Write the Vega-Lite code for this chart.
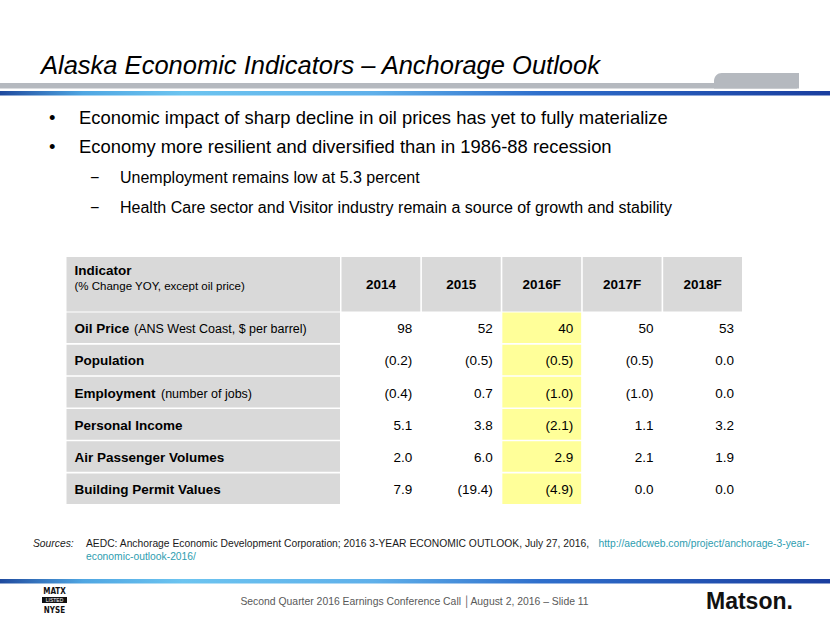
{
  "$schema": "https://vega.github.io/schema/vega-lite/v6.json",
  "width": 830,
  "height": 623,
  "autosize": {"type": "none"},
  "padding": 0,
  "background": "#ffffff",
  "config": {
    "view": {"stroke": null},
    "font": "Liberation Sans",
    "text": {"font": "Liberation Sans", "fill": "#000000"}
  },
  "datasets": {
    "bullets": [
      {"line": 1, "level": 1, "marker": "•", "text": "Economic impact of sharp decline in oil prices has yet to fully materialize"},
      {"line": 2, "level": 1, "marker": "•", "text": "Economy more resilient and diversified than in 1986-88 recession"},
      {"line": 3, "level": 2, "marker": "−", "text": "Unemployment remains low at 5.3 percent"},
      {"line": 4, "level": 2, "marker": "−", "text": "Health Care sector and Visitor industry remain a source of growth and stability"}
    ],
    "indicators": [
      {"indicator": "Oil Price", "note": "(ANS West Coast, $ per barrel)"},
      {"indicator": "Population", "note": ""},
      {"indicator": "Employment", "note": "(number of jobs)"},
      {"indicator": "Personal Income", "note": ""},
      {"indicator": "Air Passenger Volumes", "note": ""},
      {"indicator": "Building Permit Values", "note": ""}
    ],
    "years": [
      {"year": "2014"}, {"year": "2015"}, {"year": "2016F"}, {"year": "2017F"}, {"year": "2018F"}
    ],
    "table": [
      {"indicator": "Oil Price", "year": "2014", "value": 98},
      {"indicator": "Oil Price", "year": "2015", "value": 52},
      {"indicator": "Oil Price", "year": "2016F", "value": 40},
      {"indicator": "Oil Price", "year": "2017F", "value": 50},
      {"indicator": "Oil Price", "year": "2018F", "value": 53},
      {"indicator": "Population", "year": "2014", "value": -0.2},
      {"indicator": "Population", "year": "2015", "value": -0.5},
      {"indicator": "Population", "year": "2016F", "value": -0.5},
      {"indicator": "Population", "year": "2017F", "value": -0.5},
      {"indicator": "Population", "year": "2018F", "value": 0.0},
      {"indicator": "Employment", "year": "2014", "value": -0.4},
      {"indicator": "Employment", "year": "2015", "value": 0.7},
      {"indicator": "Employment", "year": "2016F", "value": -1.0},
      {"indicator": "Employment", "year": "2017F", "value": -1.0},
      {"indicator": "Employment", "year": "2018F", "value": 0.0},
      {"indicator": "Personal Income", "year": "2014", "value": 5.1},
      {"indicator": "Personal Income", "year": "2015", "value": 3.8},
      {"indicator": "Personal Income", "year": "2016F", "value": -2.1},
      {"indicator": "Personal Income", "year": "2017F", "value": 1.1},
      {"indicator": "Personal Income", "year": "2018F", "value": 3.2},
      {"indicator": "Air Passenger Volumes", "year": "2014", "value": 2.0},
      {"indicator": "Air Passenger Volumes", "year": "2015", "value": 6.0},
      {"indicator": "Air Passenger Volumes", "year": "2016F", "value": 2.9},
      {"indicator": "Air Passenger Volumes", "year": "2017F", "value": 2.1},
      {"indicator": "Air Passenger Volumes", "year": "2018F", "value": 1.9},
      {"indicator": "Building Permit Values", "year": "2014", "value": 7.9},
      {"indicator": "Building Permit Values", "year": "2015", "value": -19.4},
      {"indicator": "Building Permit Values", "year": "2016F", "value": -4.9},
      {"indicator": "Building Permit Values", "year": "2017F", "value": 0.0},
      {"indicator": "Building Permit Values", "year": "2018F", "value": 0.0}
    ],
    "slide": [
      {"part": "title", "text": "Alaska Economic Indicators – Anchorage Outlook"}
    ],
    "sources": [
      {"part": "label", "text": "Sources:"}
    ],
    "sourcebody": [
      {"part": "body", "text": "AEDC: Anchorage Economic Development Corporation; 2016 3-YEAR ECONOMIC OUTLOOK, July 27, 2016,"}
    ],
    "links": [
      {"line": 1, "text": "http://aedcweb.com/project/anchorage-3-year-"},
      {"line": 2, "text": "economic-outlook-2016/"}
    ],
    "footer": [
      {"part": "footer", "text": "Second Quarter 2016 Earnings Conference Call │August  2, 2016 – Slide 11"}
    ],
    "logo": [
      {"line": 1, "text": "MATX"},
      {"line": 2, "text": "NYSE"}
    ],
    "brand": [
      {"part": "brand", "text": "Matson."}
    ]
  },
  "layer": [
    {
      "data": {"values": [{"part": "bar"}]},
      "mark": {"type": "rect", "fill": "#b5b9bf"},
      "encoding": {
        "x": {"field": "part", "type": "nominal", "axis": null, "scale": {"type": "band", "domain": ["bar"], "range": [0, 797], "paddingInner": 0, "paddingOuter": 0}},
        "y": {"field": "part", "type": "nominal", "axis": null, "scale": {"type": "band", "domain": ["bar"], "range": [83, 88.5], "paddingInner": 0, "paddingOuter": 0}}
      }
    },
    {
      "data": {"values": [{"part": "tab"}]},
      "mark": {"type": "rect", "fill": "#b5b9bf", "cornerRadiusTopLeft": 10},
      "encoding": {
        "x": {"field": "part", "type": "nominal", "axis": null, "scale": {"type": "band", "domain": ["tab"], "range": [714, 799], "paddingInner": 0, "paddingOuter": 0}},
        "y": {"field": "part", "type": "nominal", "axis": null, "scale": {"type": "band", "domain": ["tab"], "range": [73, 88.5], "paddingInner": 0, "paddingOuter": 0}}
      }
    },
    {
      "data": {"values": [{"part": "topline"}]},
      "mark": {"type": "rect", "fill": {"gradient": "linear", "x1": 0, "y1": 0, "x2": 1, "y2": 0, "stops": [
        {"offset": 0, "color": "#1f4a9e"},
        {"offset": 0.1, "color": "#4fa6e2"},
        {"offset": 0.22, "color": "#6cc4f0"},
        {"offset": 0.45, "color": "#5fb0ea"},
        {"offset": 0.65, "color": "#2f6fcc"},
        {"offset": 1, "color": "#1a3e9f"}]}},
      "encoding": {
        "x": {"field": "part", "type": "nominal", "axis": null, "scale": {"type": "band", "domain": ["topline"], "range": [0, 830], "paddingInner": 0, "paddingOuter": 0}},
        "y": {"field": "part", "type": "nominal", "axis": null, "scale": {"type": "band", "domain": ["topline"], "range": [91, 95.5], "paddingInner": 0, "paddingOuter": 0}}
      }
    },
    {
      "data": {"values": [{"part": "footline"}]},
      "mark": {"type": "rect", "fill": {"gradient": "linear", "x1": 0, "y1": 0, "x2": 1, "y2": 0, "stops": [
        {"offset": 0, "color": "#1f4a9e"},
        {"offset": 0.1, "color": "#4fa6e2"},
        {"offset": 0.22, "color": "#6cc4f0"},
        {"offset": 0.45, "color": "#5fb0ea"},
        {"offset": 0.65, "color": "#2f6fcc"},
        {"offset": 1, "color": "#1a3e9f"}]}},
      "encoding": {
        "x": {"field": "part", "type": "nominal", "axis": null, "scale": {"type": "band", "domain": ["footline"], "range": [0, 830], "paddingInner": 0, "paddingOuter": 0}},
        "y": {"field": "part", "type": "nominal", "axis": null, "scale": {"type": "band", "domain": ["footline"], "range": [579, 583.5], "paddingInner": 0, "paddingOuter": 0}}
      }
    },
    {
      "data": {"name": "slide"},
      "mark": {"type": "text", "align": "left", "baseline": "alphabetic", "fontSize": 25.5, "fontStyle": "italic"},
      "encoding": {
        "text": {"field": "text"},
        "x": {"field": "part", "type": "nominal", "axis": null, "scale": {"type": "point", "range": [41, 41]}},
        "y": {"field": "part", "type": "nominal", "axis": null, "scale": {"type": "point", "range": [74, 74]}}
      }
    },
    {
      "data": {"name": "bullets"},
      "mark": {"type": "text", "align": "left", "baseline": "alphabetic"},
      "encoding": {
        "text": {"field": "text"},
        "x": {"field": "level", "type": "ordinal", "axis": null, "scale": {"type": "point", "domain": [1, 2], "range": [79, 120], "padding": 0}},
        "y": {"field": "line", "type": "ordinal", "axis": null, "scale": {"type": "point", "domain": [1, 2, 3, 4], "range": [123.5, 212.5], "padding": 0}},
        "size": {"field": "level", "type": "ordinal", "legend": null, "scale": {"domain": [1, 2], "range": [18.4, 16]}}
      }
    },
    {
      "data": {"name": "bullets"},
      "mark": {"type": "text", "align": "left", "baseline": "alphabetic", "dx": -30},
      "encoding": {
        "text": {"field": "marker"},
        "x": {"field": "level", "type": "ordinal", "axis": null, "scale": {"type": "point", "domain": [1, 2], "range": [79, 120], "padding": 0}},
        "y": {"field": "line", "type": "ordinal", "axis": null, "scale": {"type": "point", "domain": [1, 2, 3, 4], "range": [123.5, 212.5], "padding": 0}},
        "size": {"field": "level", "type": "ordinal", "legend": null, "scale": {"domain": [1, 2], "range": [18.4, 16]}}
      }
    },
    {
      "data": {"values": [{"col": "Indicator"}]},
      "mark": {"type": "rect", "fill": "#d9d9d9"},
      "encoding": {
        "x": {"field": "col", "type": "nominal", "axis": null, "scale": {"type": "band", "domain": ["Indicator"], "range": [66.5, 340], "paddingInner": 0, "paddingOuter": 0}},
        "y": {"datum": "header", "type": "nominal", "axis": null, "scale": {"type": "band", "domain": ["header"], "range": [257, 311.5], "paddingInner": 0, "paddingOuter": 0}}
      }
    },
    {
      "data": {"name": "years"},
      "mark": {"type": "rect", "fill": "#d9d9d9"},
      "encoding": {
        "x": {"field": "year", "type": "nominal", "axis": null, "scale": {"type": "band", "domain": ["2014", "2015", "2016F", "2017F", "2018F"], "range": [341.5, 742], "paddingInner": 0.02, "paddingOuter": 0}},
        "y": {"datum": "header", "type": "nominal", "axis": null, "scale": {"type": "band", "domain": ["header"], "range": [257, 311.5], "paddingInner": 0, "paddingOuter": 0}}
      }
    },
    {
      "data": {"values": [{"line": "title", "text": "Indicator"}]},
      "mark": {"type": "text", "align": "left", "baseline": "alphabetic", "fontSize": 13.5, "fontWeight": "bold"},
      "encoding": {
        "text": {"field": "text"},
        "x": {"field": "line", "type": "nominal", "axis": null, "scale": {"type": "point", "range": [74.5, 74.5]}},
        "y": {"field": "line", "type": "nominal", "axis": null, "scale": {"type": "point", "range": [275, 275]}}
      }
    },
    {
      "data": {"values": [{"line": "note", "text": "(% Change YOY, except oil price)"}]},
      "mark": {"type": "text", "align": "left", "baseline": "alphabetic", "fontSize": 11.5},
      "encoding": {
        "text": {"field": "text"},
        "x": {"field": "line", "type": "nominal", "axis": null, "scale": {"type": "point", "range": [74.5, 74.5]}},
        "y": {"field": "line", "type": "nominal", "axis": null, "scale": {"type": "point", "range": [289.5, 289.5]}}
      }
    },
    {
      "data": {"name": "years"},
      "mark": {"type": "text", "align": "center", "baseline": "alphabetic", "fontSize": 13.5, "fontWeight": "bold", "dy": 5},
      "encoding": {
        "text": {"field": "year"},
        "x": {"field": "year", "type": "nominal", "axis": null, "scale": {"type": "band", "domain": ["2014", "2015", "2016F", "2017F", "2018F"], "range": [341.5, 742], "paddingInner": 0.02, "paddingOuter": 0}},
        "y": {"datum": "header", "type": "nominal", "axis": null, "scale": {"type": "band", "domain": ["header"], "range": [257, 311.5], "paddingInner": 0, "paddingOuter": 0}}
      }
    },
    {
      "data": {"name": "indicators"},
      "mark": {"type": "rect", "fill": "#d9d9d9"},
      "encoding": {
        "x": {"datum": "Indicator", "type": "nominal", "axis": null, "scale": {"type": "band", "domain": ["Indicator"], "range": [66.5, 340], "paddingInner": 0, "paddingOuter": 0}},
        "y": {"field": "indicator", "type": "nominal", "axis": null, "scale": {"type": "band", "domain": ["Oil Price", "Population", "Employment", "Personal Income", "Air Passenger Volumes", "Building Permit Values"], "range": [312.5, 504], "paddingInner": 0.05, "paddingOuter": 0}}
      }
    },
    {
      "data": {"name": "table"},
      "transform": [{"filter": "datum.year === '2016F'"}],
      "mark": {"type": "rect", "fill": "#ffff99"},
      "encoding": {
        "x": {"field": "year", "type": "nominal", "axis": null, "scale": {"type": "band", "domain": ["2014", "2015", "2016F", "2017F", "2018F"], "range": [341.5, 742], "paddingInner": 0.02, "paddingOuter": 0}},
        "y": {"field": "indicator", "type": "nominal", "axis": null, "scale": {"type": "band", "domain": ["Oil Price", "Population", "Employment", "Personal Income", "Air Passenger Volumes", "Building Permit Values"], "range": [312.5, 504], "paddingInner": 0.05, "paddingOuter": 0}}
      }
    },
    {
      "data": {"name": "indicators"},
      "mark": {"type": "text", "align": "left", "baseline": "alphabetic", "fontSize": 13.5, "fontWeight": "bold", "dy": 5.5},
      "encoding": {
        "text": {"field": "indicator"},
        "x": {"datum": "label", "type": "nominal", "axis": null, "scale": {"type": "point", "domain": ["label"], "range": [74.5, 74.5]}},
        "y": {"field": "indicator", "type": "nominal", "axis": null, "scale": {"type": "band", "domain": ["Oil Price", "Population", "Employment", "Personal Income", "Air Passenger Volumes", "Building Permit Values"], "range": [312.5, 504], "paddingInner": 0.05, "paddingOuter": 0}}
      }
    },
    {
      "data": {"name": "indicators"},
      "transform": [{"filter": "datum.indicator === 'Oil Price'"}],
      "mark": {"type": "text", "align": "left", "baseline": "alphabetic", "fontSize": 12.5, "dy": 5.5, "dx": 59.5},
      "encoding": {
        "text": {"field": "note"},
        "x": {"datum": "label", "type": "nominal", "axis": null, "scale": {"type": "point", "domain": ["label"], "range": [74.5, 74.5]}},
        "y": {"field": "indicator", "type": "nominal", "axis": null, "scale": {"type": "band", "domain": ["Oil Price", "Population", "Employment", "Personal Income", "Air Passenger Volumes", "Building Permit Values"], "range": [312.5, 504], "paddingInner": 0.05, "paddingOuter": 0}}
      }
    },
    {
      "data": {"name": "indicators"},
      "transform": [{"filter": "datum.indicator === 'Employment'"}],
      "mark": {"type": "text", "align": "left", "baseline": "alphabetic", "fontSize": 12.5, "dy": 5.5, "dx": 86.5},
      "encoding": {
        "text": {"field": "note"},
        "x": {"datum": "label", "type": "nominal", "axis": null, "scale": {"type": "point", "domain": ["label"], "range": [74.5, 74.5]}},
        "y": {"field": "indicator", "type": "nominal", "axis": null, "scale": {"type": "band", "domain": ["Oil Price", "Population", "Employment", "Personal Income", "Air Passenger Volumes", "Building Permit Values"], "range": [312.5, 504], "paddingInner": 0.05, "paddingOuter": 0}}
      }
    },
    {
      "data": {"name": "table"},
      "transform": [{"filter": "datum.indicator === 'Oil Price'"}],
      "mark": {"type": "text", "align": "right", "baseline": "alphabetic", "fontSize": 13.5, "dy": 5.5, "dx": -8},
      "encoding": {
        "text": {"field": "value", "type": "quantitative", "format": ".0f"},
        "x": {"field": "year", "type": "nominal", "axis": null, "bandPosition": 1, "scale": {"type": "band", "domain": ["2014", "2015", "2016F", "2017F", "2018F"], "range": [341.5, 742], "paddingInner": 0.02, "paddingOuter": 0}},
        "y": {"field": "indicator", "type": "nominal", "axis": null, "scale": {"type": "band", "domain": ["Oil Price", "Population", "Employment", "Personal Income", "Air Passenger Volumes", "Building Permit Values"], "range": [312.5, 504], "paddingInner": 0.05, "paddingOuter": 0}}
      }
    },
    {
      "data": {"name": "table"},
      "transform": [{"filter": "datum.indicator !== 'Oil Price'"}],
      "mark": {"type": "text", "align": "right", "baseline": "alphabetic", "fontSize": 13.5, "dy": 5.5, "dx": -8},
      "encoding": {
        "text": {"field": "value", "type": "quantitative", "format": "(.1f"},
        "x": {"field": "year", "type": "nominal", "axis": null, "bandPosition": 1, "scale": {"type": "band", "domain": ["2014", "2015", "2016F", "2017F", "2018F"], "range": [341.5, 742], "paddingInner": 0.02, "paddingOuter": 0}},
        "y": {"field": "indicator", "type": "nominal", "axis": null, "scale": {"type": "band", "domain": ["Oil Price", "Population", "Employment", "Personal Income", "Air Passenger Volumes", "Building Permit Values"], "range": [312.5, 504], "paddingInner": 0.05, "paddingOuter": 0}}
      }
    },
    {
      "data": {"name": "sources"},
      "mark": {"type": "text", "align": "left", "baseline": "alphabetic", "fontSize": 10.3, "fontStyle": "italic", "fill": "#1a1a1a"},
      "encoding": {
        "text": {"field": "text"},
        "x": {"field": "part", "type": "nominal", "axis": null, "scale": {"type": "point", "range": [33, 33]}},
        "y": {"field": "part", "type": "nominal", "axis": null, "scale": {"type": "point", "range": [547, 547]}}
      }
    },
    {
      "data": {"name": "sourcebody"},
      "mark": {"type": "text", "align": "left", "baseline": "alphabetic", "fontSize": 10.3, "fill": "#1a1a1a"},
      "encoding": {
        "text": {"field": "text"},
        "x": {"field": "part", "type": "nominal", "axis": null, "scale": {"type": "point", "range": [86, 86]}},
        "y": {"field": "part", "type": "nominal", "axis": null, "scale": {"type": "point", "range": [547, 547]}}
      }
    },
    {
      "data": {"name": "links"},
      "mark": {"type": "text", "align": "left", "baseline": "alphabetic", "fontSize": 10.3, "fill": "#2e9db0"},
      "encoding": {
        "text": {"field": "text"},
        "x": {"field": "line", "type": "ordinal", "axis": null, "scale": {"type": "point", "domain": [2, 1], "range": [86, 598.5], "padding": 0}},
        "y": {"field": "line", "type": "ordinal", "axis": null, "scale": {"type": "point", "domain": [1, 2], "range": [547, 559.5], "padding": 0}}
      }
    },
    {
      "data": {"name": "footer"},
      "mark": {"type": "text", "align": "center", "baseline": "alphabetic", "fontSize": 10.4, "fill": "#595959"},
      "encoding": {
        "text": {"field": "text"},
        "x": {"field": "part", "type": "nominal", "axis": null, "scale": {"type": "point", "range": [414.5, 414.5]}},
        "y": {"field": "part", "type": "nominal", "axis": null, "scale": {"type": "point", "range": [605, 605]}}
      }
    },
    {
      "data": {"values": [{"part": "listed"}]},
      "mark": {"type": "rect", "fill": "#111111"},
      "encoding": {
        "x": {"field": "part", "type": "nominal", "axis": null, "scale": {"type": "band", "domain": ["listed"], "range": [42, 67], "paddingInner": 0, "paddingOuter": 0}},
        "y": {"field": "part", "type": "nominal", "axis": null, "scale": {"type": "band", "domain": ["listed"], "range": [597, 603], "paddingInner": 0, "paddingOuter": 0}}
      }
    },
    {
      "data": {"values": [{"part": "LISTED"}]},
      "mark": {"type": "text", "align": "center", "baseline": "middle", "fontSize": 5, "fill": "#ffffff"},
      "encoding": {
        "text": {"field": "part"},
        "x": {"field": "part", "type": "nominal", "axis": null, "scale": {"type": "point", "range": [54.5, 54.5]}},
        "y": {"field": "part", "type": "nominal", "axis": null, "scale": {"type": "point", "range": [600.2, 600.2]}}
      }
    },
    {
      "data": {"name": "logo"},
      "mark": {"type": "text", "align": "center", "baseline": "alphabetic", "fontSize": 8, "fontWeight": "bold", "font": "DejaVu Sans Condensed", "fill": "#111111"},
      "encoding": {
        "text": {"field": "text"},
        "x": {"field": "line", "type": "ordinal", "axis": null, "scale": {"type": "point", "range": [54.5, 54.5]}},
        "y": {"field": "line", "type": "ordinal", "axis": null, "scale": {"type": "point", "domain": [1, 2], "range": [594, 612.5], "padding": 0}}
      }
    },
    {
      "data": {"name": "brand"},
      "mark": {"type": "text", "align": "left", "baseline": "alphabetic", "fontSize": 23, "fontWeight": "bold", "fill": "#111111"},
      "encoding": {
        "text": {"field": "text"},
        "x": {"field": "part", "type": "nominal", "axis": null, "scale": {"type": "point", "range": [706, 706]}},
        "y": {"field": "part", "type": "nominal", "axis": null, "scale": {"type": "point", "range": [608.5, 608.5]}}
      }
    }
  ],
  "resolve": {"scale": {"x": "independent", "y": "independent", "size": "independent"}}
}
